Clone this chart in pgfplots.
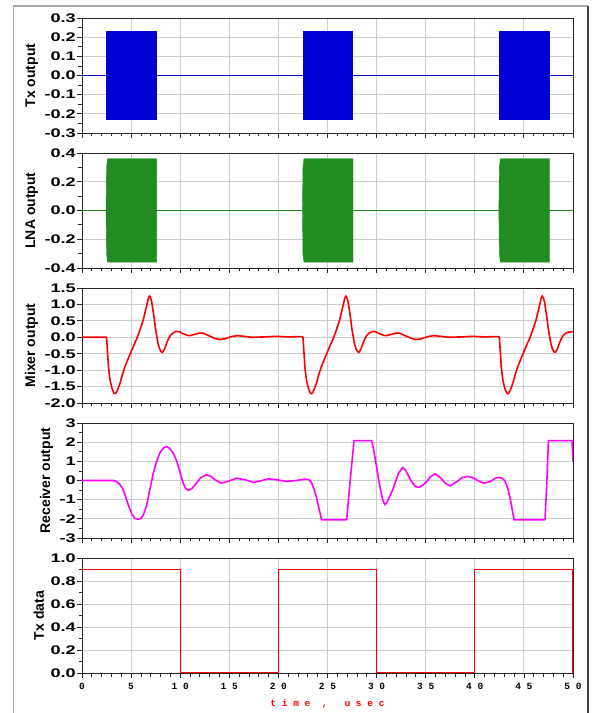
\documentclass[border=0pt]{standalone}
\usepackage{fontspec}
\setmainfont{Liberation Sans}
\newfontfamily\tickfont{Liberation Sans Bold}[FakeStretch=1.45]
\newfontfamily\xfont{Liberation Mono Bold}
\usepackage{pgfplots}
\pgfplotsset{compat=1.18}
\definecolor{txblue}{RGB}{0,0,210}
\definecolor{lnagreen}{RGB}{34,139,34}
\definecolor{mixred}{RGB}{255,0,0}
\definecolor{rxmag}{RGB}{255,0,255}
\pgfplotsset{panel/.style={
  scale only axis, width=491pt, height=115pt,
  xmin=0, xmax=50, xtick={0,5,10,15,20,25,30,35,40,45,50}, minor x tick num=4,
  grid=major, major grid style={gray!40, line width=0.9pt},
  tick align=outside, tick pos=left,
  major tick length=5pt, minor tick length=3.5pt,
  every tick/.style={black!85, line width=0.8pt},
  axis line style={black!85, line width=0.9pt},
  /pgf/number format/assume math mode=true,
  yticklabel style={font=\tickfont\fontsize{12.5}{12.5}\selectfont, inner xsep=1pt},
  ylabel style={font=\fontsize{14}{14}\selectfont\bfseries, yshift=2pt},
  anchor=north west,
}}
\begin{document}
\begin{tikzpicture}
\path[use as bounding box] (0pt,0pt) rectangle (592pt,713pt);
\draw[gray!70, line width=1.3pt] (13.5pt,-5pt) -- (13.5pt,707pt) -- (588pt,707pt);
\draw[black!75, line width=1.3pt] (588pt,707pt) -- (588pt,-5pt);
% Panel 1: Tx output
\begin{axis}[panel, at={(82pt,695pt)}, ymin=-0.3, ymax=0.3,
  ytick={-0.3,-0.2,-0.1,0,0.1,0.2,0.3}, minor y tick num=1,
  yticklabel={\pgfmathprintnumber[fixed,fixed zerofill,precision=1]{\tick}},
  xticklabel=\empty, ylabel={Tx output}]
\addplot[txblue, line width=1.2pt] coordinates {(0,0) (50,0)};
\addplot[fill=txblue, draw=txblue, line width=0.4pt] coordinates {(2.45,-0.23) (2.45,0.23) (7.6,0.23) (7.6,-0.23)} -- cycle;
\addplot[fill=txblue, draw=txblue, line width=0.4pt] coordinates {(22.5,-0.23) (22.5,0.23) (27.55,0.23) (27.55,-0.23)} -- cycle;
\addplot[fill=txblue, draw=txblue, line width=0.4pt] coordinates {(42.5,-0.23) (42.5,0.23) (47.55,0.23) (47.55,-0.23)} -- cycle;
\end{axis}
% Panel 2: LNA output
\begin{axis}[panel, at={(82pt,560pt)}, ymin=-0.4, ymax=0.4,
  ytick={-0.4,-0.2,0,0.2,0.4}, minor y tick num=1,
  yticklabel={\pgfmathprintnumber[fixed,fixed zerofill,precision=1]{\tick}},
  xticklabel=\empty, ylabel={LNA output}]
\addplot[lnagreen, line width=1.2pt] coordinates {(0,0) (50,0)};
\addplot[fill=lnagreen, draw=lnagreen, line width=0.4pt] coordinates {(2.45,0) (2.5,-0.3) (2.6,-0.36) (7.6,-0.36) (7.6,0.36) (2.6,0.36) (2.5,0.3)} -- cycle;
\addplot[fill=lnagreen, draw=lnagreen, line width=0.4pt] coordinates {(22.45,0) (22.5,-0.3) (22.6,-0.36) (27.6,-0.36) (27.6,0.36) (22.6,0.36) (22.5,0.3)} -- cycle;
\addplot[fill=lnagreen, draw=lnagreen, line width=0.4pt] coordinates {(42.45,0) (42.5,-0.3) (42.6,-0.36) (47.6,-0.36) (47.6,0.36) (42.6,0.36) (42.5,0.3)} -- cycle;
\end{axis}
% Panel 3: Mixer output
\begin{axis}[panel, at={(82pt,425pt)}, ymin=-2, ymax=1.5,
  ytick={-2,-1.5,-1,-0.5,0,0.5,1,1.5}, minor y tick num=0,
  yticklabel={\pgfmathprintnumber[fixed,fixed zerofill,precision=1]{\tick}},
  xticklabel=\empty, ylabel={Mixer output}]
\addplot[mixred, line width=1.6pt, line join=round] coordinates {
(0,0) (2.5,0) (2.6,-0.45) (2.7,-0.92) (2.85,-1.29) (3.05,-1.55) (3.25,-1.70) (3.4,-1.72) (3.6,-1.62) (3.87,-1.40) (4.1,-1.15) (4.38,-0.89) (4.7,-0.65) (5.06,-0.40) (5.3,-0.22) (5.57,-0.05) (5.9,0.22) (6.25,0.54) (6.45,0.80) (6.6,0.98) (6.75,1.18) (6.87,1.26) (7.0,1.18) (7.1,1.08) (7.2,0.88) (7.33,0.62) (7.45,0.33) (7.6,0.05) (7.75,-0.20) (7.9,-0.35) (8.05,-0.44) (8.2,-0.46) (8.4,-0.36) (8.62,-0.18) (8.8,-0.05) (9.0,0.06) (9.3,0.14) (9.6,0.18) (9.9,0.17) (10.3,0.11) (10.7,0.06) (11.0,0.05) (11.5,0.09) (12.0,0.13) (12.4,0.12) (12.9,0.05) (13.5,-0.03) (14.0,-0.07) (14.5,-0.05) (15.2,0.02) (15.8,0.05) (16.5,0.03) (17.3,0.0) (18.5,0.01) (19.8,0.03) (21,0.01) (22,0.02) (22.4,0.02)
(22.5,0) (22.6,-0.45) (22.7,-0.92) (22.85,-1.29) (23.05,-1.55) (23.25,-1.70) (23.4,-1.72) (23.6,-1.62) (23.87,-1.40) (24.1,-1.15) (24.38,-0.89) (24.7,-0.65) (25.06,-0.40) (25.3,-0.22) (25.57,-0.05) (25.9,0.22) (26.25,0.54) (26.45,0.80) (26.6,0.98) (26.75,1.18) (26.87,1.26) (27.0,1.18) (27.1,1.08) (27.2,0.88) (27.33,0.62) (27.45,0.33) (27.6,0.05) (27.75,-0.20) (27.9,-0.35) (28.05,-0.44) (28.2,-0.46) (28.4,-0.36) (28.62,-0.18) (28.8,-0.05) (29.0,0.06) (29.3,0.14) (29.6,0.18) (29.9,0.17) (30.3,0.11) (30.7,0.06) (31.0,0.05) (31.5,0.09) (32.0,0.13) (32.4,0.12) (32.9,0.05) (33.5,-0.03) (34.0,-0.07) (34.5,-0.05) (35.2,0.02) (35.8,0.05) (36.5,0.03) (37.3,0.0) (38.5,0.01) (39.8,0.03) (41,0.01) (42,0.02) (42.4,0.02)
(42.5,0) (42.6,-0.45) (42.7,-0.92) (42.85,-1.29) (43.05,-1.55) (43.25,-1.70) (43.4,-1.72) (43.6,-1.62) (43.87,-1.40) (44.1,-1.15) (44.38,-0.89) (44.7,-0.65) (45.06,-0.40) (45.3,-0.22) (45.57,-0.05) (45.9,0.22) (46.25,0.54) (46.45,0.80) (46.6,0.98) (46.75,1.18) (46.87,1.26) (47.0,1.18) (47.1,1.08) (47.2,0.88) (47.33,0.62) (47.45,0.33) (47.6,0.05) (47.75,-0.20) (47.9,-0.35) (48.05,-0.44) (48.2,-0.46) (48.4,-0.36) (48.62,-0.18) (48.8,-0.05) (49.0,0.06) (49.3,0.13) (49.6,0.16) (50,0.17)};
\end{axis}
% Panel 4: Receiver output
\begin{axis}[panel, at={(82pt,290pt)}, ymin=-3, ymax=3,
  ytick={-3,-2,-1,0,1,2,3}, minor y tick num=1,
  yticklabel={\pgfmathprintnumber[fixed,precision=0]{\tick}},
  xticklabel=\empty, ylabel={Receiver output}]
\addplot[rxmag, line width=1.6pt, line join=round] coordinates {
(0,0) (3.2,0) (3.5,-0.05) (3.85,-0.2) (4.2,-0.48) (4.5,-0.95) (4.8,-1.4) (5.1,-1.78) (5.4,-1.98) (5.74,-2.03) (6.05,-1.95) (6.3,-1.72) (6.58,-1.3) (6.9,-0.5) (7.26,0.38) (7.6,1.0) (7.94,1.45) (8.3,1.70) (8.62,1.77) (8.95,1.67) (9.3,1.42) (9.64,1.02) (10.0,0.4) (10.3,-0.14) (10.55,-0.42) (10.83,-0.52) (11.2,-0.42) (11.68,-0.12) (12.1,0.15) (12.63,0.30) (13.1,0.22) (13.6,0.02) (14.2,-0.14) (14.9,-0.04) (15.75,0.12) (16.6,0.04) (17.45,-0.10) (18.2,-0.02) (19.0,0.09) (19.9,0.03) (20.85,-0.05) (21.8,0.0) (22.7,0.07) (23.1,0.05) (23.4,-0.14) (23.65,-0.5) (23.9,-0.92) (24.15,-1.5) (24.4,-2.05) (26.95,-2.05) (27.1,-1.2) (27.3,-0.05) (27.5,1.0) (27.7,2.08) (29.5,2.08) (29.7,1.6) (30.07,0.47) (30.4,-0.5) (30.65,-1.05) (30.86,-1.27) (31.1,-1.1) (31.7,-0.40) (32.2,0.35) (32.65,0.68) (33.0,0.5) (33.45,0.04) (33.9,-0.30) (34.3,-0.36) (34.7,-0.25) (35.1,-0.05) (35.5,0.2) (35.95,0.35) (36.5,0.15) (37.0,-0.15) (37.5,-0.28) (38.2,-0.05) (38.7,0.15) (39.2,0.21) (39.8,0.15) (40.3,0.0) (40.9,-0.14) (41.6,-0.05) (42.1,0.12) (42.4,0.16) (42.8,0.12) (43.1,-0.05) (43.35,-0.4) (43.6,-0.92) (43.8,-1.5) (44.0,-2.05) (47.15,-2.05) (47.3,-0.5) (47.5,2.08) (49.9,2.08) (50,1.0)};
\end{axis}
% Panel 5: Tx data
\begin{axis}[panel, at={(82pt,155pt)}, ymin=0, ymax=1,
  ytick={0,0.2,0.4,0.6,0.8,1}, minor y tick num=1,
  yticklabel={\pgfmathprintnumber[fixed,fixed zerofill,precision=1]{\tick}},
  xticklabels={0,5,1 0,1 5,2 0,2 5,3 0,3 5,4 0,4 5,5 0},
  xticklabel style={font=\xfont\fontsize{9.5}{9.5}\selectfont, yshift=-2pt},
  xlabel={t~i~m~e~~,~~~u~s~e~c},
  xlabel style={font=\xfont\fontsize{9.5}{9.5}\selectfont, text=mixred, yshift=-3pt},
  ylabel={Tx data}]
\addplot[mixred, line width=1.3pt] coordinates {(0,0.9) (10,0.9) (10,0) (20,0) (20,0.9) (30,0.9) (30,0) (40,0) (40,0.9) (50,0.9) (50,0)};
\end{axis}
\end{tikzpicture}
\end{document}
